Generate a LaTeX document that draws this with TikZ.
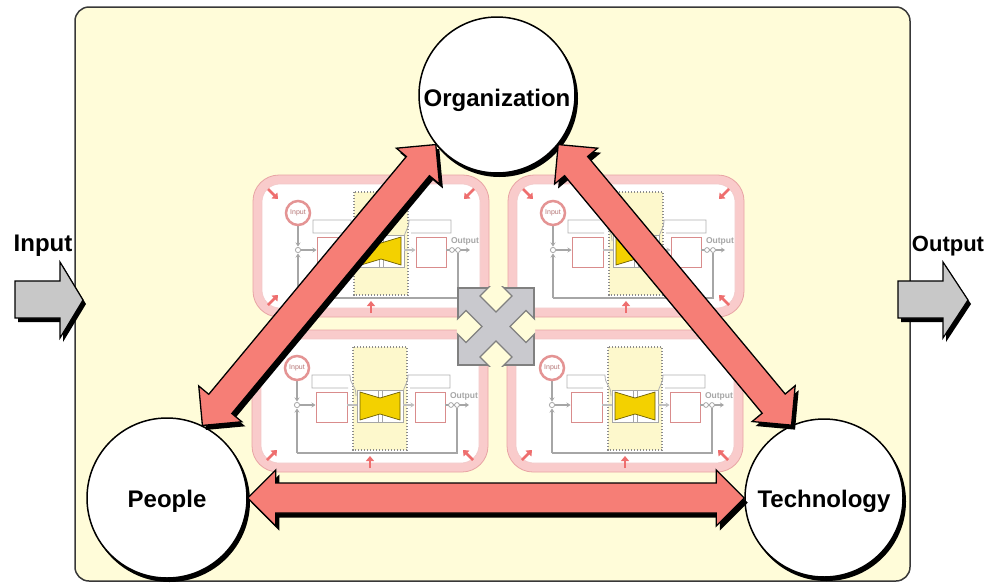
\documentclass[tikz,border=0pt]{standalone}
\usepackage{fontspec}
\setmainfont{Liberation Sans}
\usetikzlibrary{calc,arrows.meta}
\definecolor{bg}{HTML}{FFFCD9}
\definecolor{redarr}{HTML}{F67E76}
\definecolor{pinkring}{HTML}{F9CBCB}
\definecolor{pinkedge}{HTML}{E8A4A4}
\definecolor{boxpink}{HTML}{D98C8C}
\definecolor{pipe}{HTML}{A6A6A6}
\definecolor{gold}{HTML}{F3D100}
\definecolor{colyel}{HTML}{FDF8CC}
\definecolor{crossgray}{HTML}{C9C9CE}
\definecolor{arrgray}{HTML}{C8C8C8}
\definecolor{smallred}{HTML}{EE6E6E}
\definecolor{inring}{HTML}{E49494}

\newcommand\minidiag[3]{%
\begin{scope}[shift={(#1,#2)}]
 \draw[draw=pinkedge, fill=pinkring, line width=0.8pt, rounded corners=26pt] (0,0) rectangle (236,142);
 \draw[draw=pinkedge!60, fill=white, line width=0.6pt, rounded corners=18pt] (9,9) rectangle (227,133);
 \draw[draw=black!45, fill=colyel, line width=1.4pt, dash pattern=on 1.4pt off 1.6pt] (101,17) rectangle (155,120);
 \draw[black!30, line width=0.8pt] (96,58) -- (60,58) -- (60,45) -- (98,45) .. controls (98,56) and (104,54) .. (104,66);
 \draw[black!30, line width=0.8pt] (158,58) -- (198,58) -- (198,45) -- (156,45) .. controls (156,56) and (151,54) .. (151,66);
 \draw[pipe, line width=1.8pt] (205,78) -- (205,123) -- (45,123);
 \draw[pipeline] (45,123) -- (45,78.5);
 \draw[pipeline] (45,51) -- (45,71.5);
 \draw[pipeline] (48,75) -- (63.5,75);
 \draw[pipe, fill=white, line width=0.8pt] (45,75) circle (2.6);
 \draw[boxpink, fill=white, line width=1pt] (64,62) rectangle (95,92);
 \draw[boxpink, fill=white, line width=1pt] (163,62) rectangle (193,92);
 \draw[black!25, line width=1.5pt] (95,75) -- (105,75);
 \draw[black!35, fill=white, line width=0.6pt] (105,60) rectangle (151,92);
 \draw[black!35, line width=0.8pt] (126,60) -- (126,92) (130,60) -- (130,92);
 \draw[fill=gold, draw=black!55!gold, line width=0.7pt] (108,62) -- (128,68) -- (148,62) -- (148,90) -- (128,84) -- (108,90) -- cycle;
 \draw[black!25, line width=1.5pt, -{Stealth[length=4pt,width=5pt]}] (151,75) -- (162.5,75);
 \draw[pipeline] (193,75) -- (217,75);
 \draw[pipe, fill=white, line width=0.8pt] (199,75) circle (2.4) (205,75) circle (2.4);
 \node[font=\bfseries\fontsize{8.5}{9}\selectfont, text=black!35, inner sep=0pt] (#3out) at (212,66) {Output};
 \node[circle, draw=inring, line width=2.5pt, fill=white, minimum size=24pt, inner sep=0pt,
       font=\fontsize{7}{8}\selectfont, text=inring!80!black] (#3in) at (45,38) {Input};
 \draw[smallarr] (15,14) -- (25,24);
 \draw[smallarr] (221,14) -- (211,24);
 \draw[smallarr] (15,130) -- (25,120);
 \draw[smallarr] (221,130) -- (211,120);
 \draw[smallarr] (118,138) -- (118,126);
\end{scope}}

\newcommand\redarrow[3]{%
 \coordinate (ra1) at ($(#1)!28pt!(#2)$);
 \coordinate (ra2) at ($(#2)!28pt!(#1)$);
 \path[#3] (#1) -- ($(ra1)!28pt!90:(#2)$) -- ($(ra1)!15pt!90:(#2)$) -- ($(ra2)!15pt!-90:(#1)$)
   -- ($(ra2)!28pt!-90:(#1)$) -- (#2) -- ($(ra2)!28pt!90:(#1)$) -- ($(ra2)!15pt!90:(#1)$)
   -- ($(ra1)!15pt!-90:(#2)$) -- ($(ra1)!28pt!-90:(#2)$) -- cycle;}

\begin{document}
\begin{tikzpicture}[x=1pt,y=-1pt,
  mainbox/.style={draw=black!78, line width=1.5pt, fill=bg, rounded corners=14pt},
  bigcircle/.style={circle, draw=black, line width=1.5pt, fill=white, inner sep=0pt,
     text height=0pt, text depth=0pt, font=\bfseries\fontsize{24}{26}\selectfont},
  iolabel/.style={font=\bfseries\fontsize{24}{26}\selectfont, inner sep=0pt},
  blockarrow/.style={fill=arrgray, draw=black, line width=1.2pt, line join=miter},
  pipeline/.style={pipe, line width=1.8pt, -{Stealth[length=4pt,width=5pt]}},
  smallarr/.style={draw=smallred, line width=2.6pt, -{Triangle[length=5pt,width=8pt]}},
  redfill/.style={fill=redarr, draw=black, line width=1.3pt, line join=miter},
  redshadow/.style={fill=black, transform canvas={shift={(3.5pt,-4.5pt)}}}
]
\useasboundingbox (0,0) rectangle (997,584);

% main box
\draw[mainbox] (75,7) rectangle (910,581);

% input / output block arrows
\fill[black] (18,285) -- (63,285) -- (63,266) -- (86,304) -- (63,342) -- (63,322) -- (18,322) -- cycle;
\draw[blockarrow] (15,281) -- (60,281) -- (60,262) -- (83,300) -- (60,338) -- (60,318) -- (15,318) -- cycle;
\node[iolabel] (inlabel) at (43,246) {Input};
\fill[black] (901,285) -- (946,285) -- (946,266) -- (971,304) -- (946,342) -- (946,322) -- (901,322) -- cycle;
\draw[blockarrow] (898,281) -- (943,281) -- (943,262) -- (968,300) -- (943,338) -- (943,318) -- (898,318) -- cycle;
\node[iolabel, font=\bfseries\fontsize{22}{24}\selectfont] (outlabel) at (948,246) {Output};

% four process diagrams
\minidiag{253}{175}{tl}
\minidiag{508}{175}{tr}
\minidiag{252}{330}{bl}
\minidiag{507}{330}{br}

% gray cross
\draw[fill=crossgray, draw=black!50, line width=1.2pt] (458,288) rectangle (534,365);
\begin{scope}
 \clip (456.8,286.8) rectangle (535.2,366.2);
 \foreach \cx/\cy in {496/296, 466/326.5, 526/326.5, 496/357}
   \draw[fill=bg, draw=black!50, line width=1.2pt] (\cx-16,\cy) -- (\cx,\cy-16) -- (\cx+16,\cy) -- (\cx,\cy+16) -- cycle;
\end{scope}

% circles
\coordinate (cOrg) at (497,95);
\coordinate (cPpl) at (167,498);
\coordinate (cTec) at (824,498);
\fill[black] ($(cOrg)+(2.5,3.5)$) circle (78.5);
\fill[black] ($(cPpl)+(2.5,3.5)$) circle (80.5);
\fill[black] ($(cTec)+(2.5,3.5)$) circle (79.5);
\node[bigcircle, minimum size=156pt] (org) at (cOrg) {\raisebox{-11pt}[0pt][0pt]{Organization}};
\node[bigcircle, minimum size=160pt] (ppl) at (cPpl) {\raisebox{-9pt}[0pt][0pt]{People}};
\node[bigcircle, minimum size=158pt] (tec) at (cTec) {\raisebox{-9pt}[0pt][0pt]{Technology}};

% red double arrows
\redarrow{ppl.64}{org.219}{redshadow}
\redarrow{org.-39}{tec.114}{redshadow}
\redarrow{ppl.0}{tec.180}{redshadow}
\redarrow{ppl.64}{org.219}{redfill}
\redarrow{org.-39}{tec.114}{redfill}
\redarrow{ppl.0}{tec.180}{redfill}
\end{tikzpicture}
\end{document}
